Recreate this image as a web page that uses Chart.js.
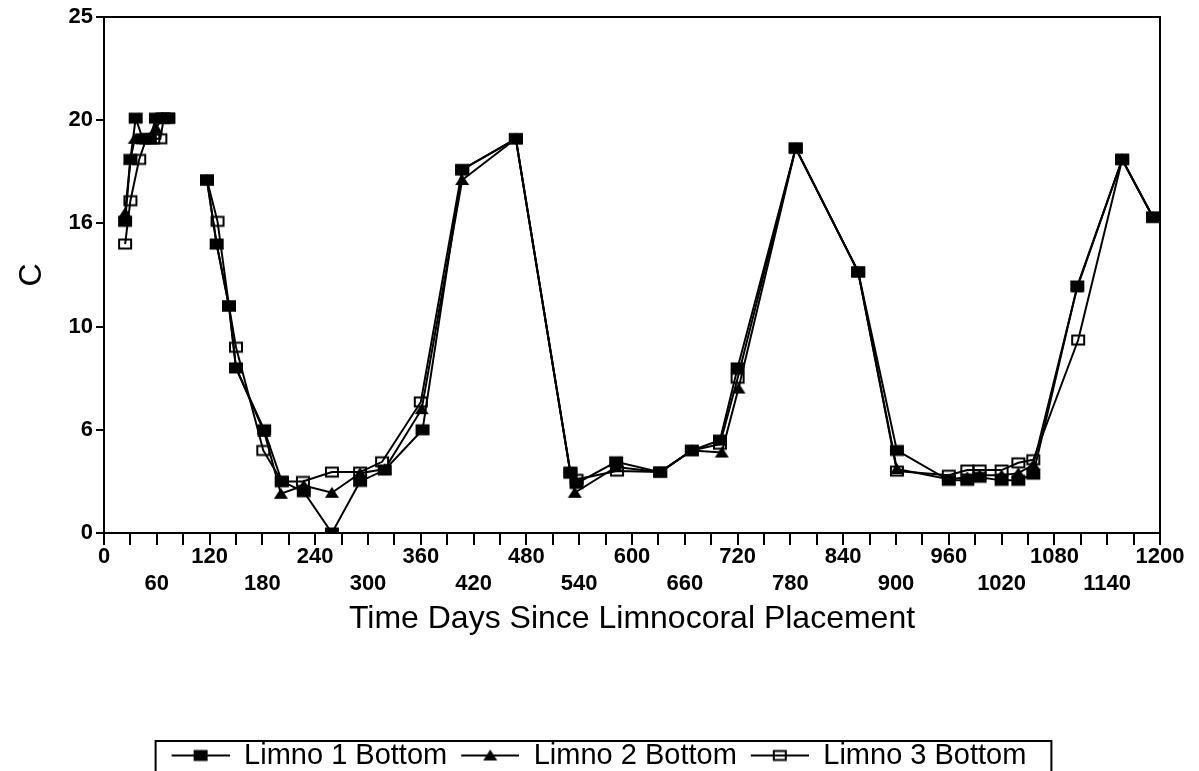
<!DOCTYPE html>
<html>
<head>
<meta charset="utf-8">
<script src="https://cdn.jsdelivr.net/npm/chart.js@4.4.1/dist/chart.umd.min.js"></script>
<style>
  html, body { margin: 0; padding: 0; background: #fff; }
  canvas { display: block; }
</style>
</head>
<body>
<canvas id="chart" width="1199" height="771"></canvas>
<script>
// Bottom-water temperature (C) in three limnocorals, by days since placement.
// A null value breaks the line between the first summer and the autumn record.
const seriesNames = ['Limno 1 Bottom', 'Limno 2 Bottom', 'Limno 3 Bottom'];

const days1 = [24, 30, 36, 44, 52, 59, 66, 73, 95,
  117, 128, 142, 150, 182, 202, 227, 259, 291, 319,
  362, 407, 468, 530, 537, 582, 632, 668, 700, 720,
  786, 857, 901, 960, 981, 995, 1020, 1039, 1056, 1106,
  1157, 1192];
const temp1 = [15.1, 18.1, 20.1, 19.1, 19.1, 20.1, 20.1, 20.1, null,
  17.1, 14.0, 11.0, 8.0, 5.0, 2.5, 2.0, 0, 2.5, 3.05,
  5.0, 17.6, 19.1, 2.95, 2.4, 3.45, 2.95, 4.0, 4.5, 8.0,
  18.65, 12.65, 4.0, 2.55, 2.55, 2.7, 2.55, 2.55, 2.85, 11.97,
  18.1, 15.3];

const days2 = [24, 30, 35, 43, 51, 59, 66, 73, 95,
  117, 128, 142, 150, 182, 201, 227, 259, 291, 319,
  361, 407, 468, 530, 535, 582, 632, 668, 702, 721,
  786, 857, 901, 960, 981, 995, 1020, 1039, 1056, 1106,
  1157, 1192];
const temp2 = [15.5, 18.1, 19.1, 19.1, 19.1, 19.6, 20.1, 20.1, null,
  17.1, 14.0, 11.0, 8.0, 4.9, 1.9, 2.3, 1.95, 2.9, 3.1,
  6.0, 17.1, 19.1, 2.9, 1.95, 3.2, 2.95, 4.0, 3.9, 7.0,
  18.65, 12.65, 3.1, 2.6, 2.7, 2.8, 2.8, 2.9, 3.3, 11.9,
  18.1, 15.3];

const days3 = [24, 30, 40, 48, 56, 64, 68, 73, 95,
  117, 129, 142, 150, 181, 202, 226, 259, 291, 316,
  360, 407, 468, 530, 537, 583, 632, 668, 700, 720,
  786, 857, 901, 960, 981, 995, 1020, 1039, 1056, 1107,
  1157, 1192];
const temp3 = [14.0, 16.1, 18.1, 19.1, 19.1, 19.1, 20.1, 20.1, null,
  17.1, 15.1, 11.0, 9.0, 4.0, 2.5, 2.5, 2.95, 2.95, 3.45,
  6.35, 17.6, 19.1, 2.9, 2.6, 3.0, 2.95, 4.0, 4.3, 7.5,
  18.65, 12.65, 3.0, 2.8, 3.05, 3.05, 3.05, 3.4, 3.55, 9.35,
  18.1, 15.3];

const yTickValues = [0, 5, 10, 15, 20, 25];
const yTickLabels = ['0', '6', '10', '16', '20', '25'];
const xLabelDays = [0, 60, 120, 180, 240, 300, 360, 420, 480, 540, 600, 660,
  720, 780, 840, 900, 960, 1020, 1080, 1140, 1200];
const xLabelTexts = ['0', '60', '120', '180', '240', '300', '360', '420', '480', '540', '600', '660',
  '720', '780', '840', '900', '960', '1020', '1080', '1140', '1200'];

const FONT = "'Liberation Sans', Arial, Helvetica, sans-serif";
const INK = '#000';

// Marker glyphs: filled square, filled triangle, open square
function drawGlyph(ctx, kind, cx, cy) {
  ctx.fillStyle = INK;
  ctx.strokeStyle = INK;
  if (kind === 'square') {
    ctx.fillRect(cx - 7, cy - 5.5, 14, 11);
  } else if (kind === 'triangle') {
    ctx.beginPath();
    ctx.moveTo(cx, cy - 6);
    ctx.lineTo(cx + 7, cy + 5);
    ctx.lineTo(cx - 7, cy + 5);
    ctx.closePath();
    ctx.fill();
  } else {
    ctx.lineWidth = 2;
    ctx.strokeRect(cx - 6, cy - 4.5, 12, 9);
  }
}

function makeMarker(kind) {
  const c = document.createElement('canvas');
  c.width = 16; c.height = 14;
  drawGlyph(c.getContext('2d'), kind, 8, 7);
  return c;
}

// Legend swatch: a short line with the marker in the middle, blank lead-in on the left
function makeLegendIcon(kind) {
  const c = document.createElement('canvas');
  c.width = 72; c.height = 22;
  const ctx = c.getContext('2d');
  ctx.strokeStyle = INK;
  ctx.lineWidth = 2;
  ctx.beginPath();
  ctx.moveTo(14, 11);
  ctx.lineTo(72, 11);
  ctx.stroke();
  drawGlyph(ctx, kind, 43, 11);
  return c;
}

const kinds = ['square', 'triangle', 'open'];
const markers = kinds.map(makeMarker);
const legendIcons = kinds.map(makeLegendIcon);

function toPoints(days, temps) {
  return days.map((d, i) => ({ x: d, y: temps[i] }));
}

const series = [toPoints(days1, temp1), toPoints(days2, temp2), toPoints(days3, temp3)];

const datasets = series.map((pts, i) => ({
  label: seriesNames[i],
  data: pts,
  borderColor: INK,
  backgroundColor: INK,
  borderWidth: 2,
  pointStyle: markers[i],
  pointRadius: 6,
  pointHoverRadius: 6,
  tension: 0,
  spanGaps: false,
  fill: false
}));

// Box round the plot area, and the partial frame round the legend row
const framePlugin = {
  id: 'frames',
  afterLayout(chart) {
    // nudge the legend row a little to the right of centre
    const lg = chart.legend;
    if (lg) { lg.left += 12; lg.right += 12; }
  },
  beforeDatasetsDraw(chart) {
    const { ctx, chartArea: a } = chart;
    ctx.save();
    ctx.strokeStyle = INK;
    ctx.lineWidth = 2;
    ctx.strokeRect(a.left, a.top, a.right - a.left, a.bottom - a.top);
    ctx.restore();
  },
  afterDraw(chart) {
    const lg = chart.legend;
    if (!lg || !lg.legendHitBoxes || !lg.legendHitBoxes.length) return;
    const hb = lg.legendHitBoxes;
    const first = hb[0], last = hb[hb.length - 1];
    const left = first.left - 2;
    const right = last.left + last.width + 25;
    const top = lg.top;
    const ctx = chart.ctx;
    ctx.save();
    ctx.strokeStyle = INK;
    ctx.lineWidth = 2;
    ctx.beginPath();
    ctx.moveTo(left, chart.height);
    ctx.lineTo(left, top);
    ctx.lineTo(right, top);
    ctx.lineTo(right, chart.height);
    ctx.stroke();
    ctx.restore();
  }
};

new Chart(document.getElementById('chart'), {
  type: 'line',
  data: { datasets },
  plugins: [framePlugin],
  options: {
    responsive: false,
    animation: false,
    layout: { padding: { top: 17, right: 39, left: 0, bottom: 0 } },
    plugins: {
      tooltip: { enabled: false },
      legend: {
        position: 'bottom',
        maxHeight: 30,
        labels: {
          usePointStyle: true,
          pointStyleWidth: 72,
          padding: 0,
          color: INK,
          font: { family: FONT, size: 29 },
          generateLabels: (chart) => chart.data.datasets.map((ds, i) => ({
            text: ds.label,
            pointStyle: legendIcons[i],
            fillStyle: INK,
            strokeStyle: INK,
            fontColor: INK,
            lineWidth: 0,
            hidden: false,
            datasetIndex: i
          }))
        }
      }
    },
    scales: {
      x: {
        type: 'linear',
        min: 0,
        max: 1200,
        afterFit: (s) => { s.height = 208; },
        ticks: {
          stepSize: 30,
          autoSkip: false,
          maxRotation: 0,
          minRotation: 0,
          padding: -2,
          color: INK,
          font: { family: FONT, size: 22, weight: 'bold', lineHeight: 1.25 },
          callback: (v) => {
            const i = xLabelDays.indexOf(v);
            if (i < 0) return '';
            return i % 2 === 0 ? xLabelTexts[i] : ['', xLabelTexts[i]];
          }
        },
        grid: { drawOnChartArea: false, drawTicks: true, tickLength: 12, color: INK, lineWidth: 2 },
        border: { color: INK, width: 2 },
        title: {
          display: true,
          text: 'Time Days Since Limnocoral Placement',
          color: INK,
          font: { family: FONT, size: 32, lineHeight: 1.2 },
          padding: { top: 0, bottom: 103 }
        }
      },
      y: {
        min: 0,
        max: 25,
        afterFit: (s) => { s.width = 104; },
        ticks: {
          stepSize: 5,
          padding: 3,
          color: INK,
          font: { family: FONT, size: 22, weight: 'bold' },
          callback: (v) => {
            const i = yTickValues.indexOf(v);
            return i < 0 ? '' : yTickLabels[i];
          }
        },
        grid: { drawOnChartArea: false, drawTicks: true, tickLength: 8, color: INK, lineWidth: 2 },
        border: { color: INK, width: 2 },
        title: {
          display: true,
          text: 'C',
          color: INK,
          font: { family: FONT, size: 32, lineHeight: 1.2 },
          padding: { top: 13, bottom: 0 }
        }
      }
    }
  }
});
</script>
</body>
</html>
